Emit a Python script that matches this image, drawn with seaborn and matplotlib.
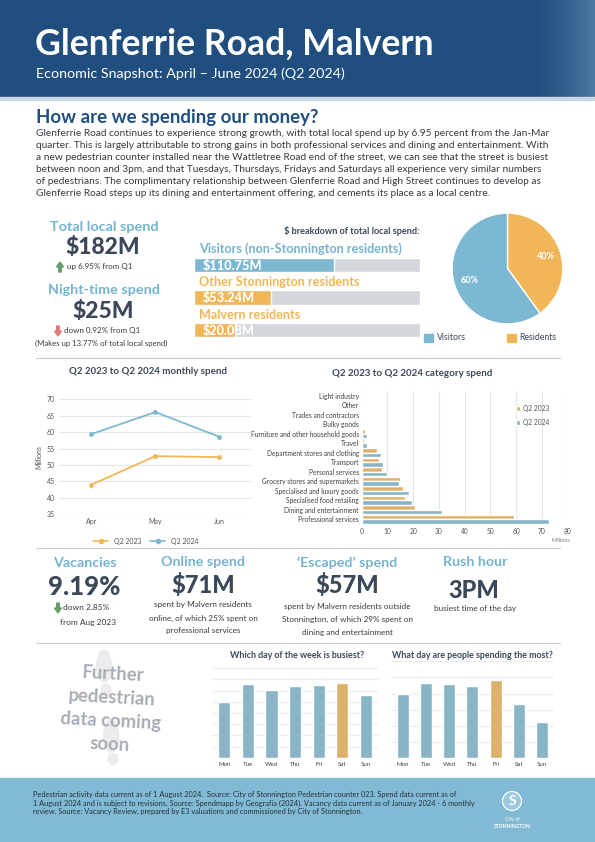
import numpy as np
import pandas as pd
import matplotlib
matplotlib.use("Agg")
import matplotlib.pyplot as plt
import seaborn as sns
from matplotlib.patches import Rectangle, Circle, Ellipse
from matplotlib.lines import Line2D
from matplotlib.colors import LinearSegmentedColormap

W, H = 595, 842

months = ["Apr", "May", "Jun"]
spend_2023 = [44.0, 52.7, 52.4]
spend_2024 = [59.4, 66.1, 58.6]

categories = ["Light industry", "Other", "Trades and contractors", "Bulky goods",
              "Furniture and other household goods", "Travel",
              "Department stores and clothing", "Transport", "Personal services",
              "Grocery stores and supermarkets", "Specialised and luxury goods",
              "Specialised food retailing", "Dining and entertainment",
              "Professional services"]
cat_2023 = [0.3, 0.4, 0.4, 0.5, 1.3, 0.9, 6.0, 6.7, 7.9, 14.9, 15.9, 16.8, 20.7, 59.2]
cat_2024 = [0.2, 0.3, 0.4, 0.5, 1.9, 1.9, 7.4, 8.3, 9.8, 14.5, 18.4, 19.5, 31.2, 72.8]

days = ["Mon", "Tue", "Wed", "Thu", "Fri", "Sat", "Sun"]
pedestrians = [5.0, 6.56, 6.06, 6.38, 6.5, 6.65, 5.62]
day_spend = [3.96, 4.64, 4.58, 4.48, 4.83, 3.37, 2.22]

breakdown_labels = ["Visitors (non-Stonnington residents)", "Other Stonnington residents",
                    "Malvern residents"]
breakdown_values = [110.75, 53.24, 20.08]

pie_labels = ["Visitors", "Residents"]
pie_shares = [60, 40]

# ---- colours ----
NAVY = "#1f4e7f"
BLUE = "#7db8d2"
ORANGE = "#f0b657"
SLATE = "#3b4859"
SKY = "#74b4d0"
TRACK = "#d3d6da"
GRID = "#e4e4e4"
RULE = "#c5c9cf"

sns.set_theme(style="white")
plt.rcParams["font.family"] = ["Lato", "DejaVu Sans"]

fig = plt.figure(figsize=(W / 100, H / 100), dpi=100)
fig.patch.set_facecolor("white")

# full-page canvas in pixel coordinates
ax0 = fig.add_axes([0, 0, 1, 1])
ramp = np.clip((np.arange(W) - 530) / 65.0, 0, 1) ** 1.4
header_cmap = LinearSegmentedColormap.from_list("hdr", [NAVY, "#4b7aa3"])
ax0.imshow(ramp[None, :], extent=(0, W, 97, 0), aspect="auto", cmap=header_cmap,
           vmin=0, vmax=1, zorder=0)
ax0.set_xlim(0, W)
ax0.set_ylim(H, 0)
ax0.axis("off")
ax0.add_patch(Rectangle((0, 97), W, 3, color="#c9d7e4", zorder=1))


def px_axes(x0, y0, x1, y1):
    return fig.add_axes([x0 / W, 1 - y1 / H, (x1 - x0) / W, (y1 - y0) / H])


def txt(x, y, s, size, color, weight="normal", ha="left", **kw):
    ax0.text(x, y, s, fontsize=size, color=color, fontweight=weight, ha=ha,
             va="center", **kw)


def up_arrow(x, y, col):
    ax0.arrow(x, y + 5, 0, -10, width=2.6, head_width=7, head_length=5, color=col,
              length_includes_head=True)


def down_arrow(x, y, col):
    ax0.arrow(x, y - 5, 0, 10, width=2.6, head_width=7, head_length=5, color=col,
              length_includes_head=True)


# ---- header ----
txt(35, 44, "Glenferrie Road, Malvern", 25.6, "white", "bold")
txt(36, 74, "Economic Snapshot: April \u2013 June 2024 (Q2 2024)", 10.3, "white")

# ---- intro ----
txt(36, 117, "How are we spending our money?", 13.4, NAVY, "bold")
para = [
    "Glenferrie Road continues to experience strong growth, with total local spend up by 6.95 percent from the Jan-Mar",
    "quarter. This is largely attributable to strong gains in both professional services and dining and entertainment. With",
    "a new pedestrian counter installed near the Wattletree Road end of the street, we can see that the street is busiest",
    "between noon and 3pm, and that Tuesdays, Thursdays, Fridays and Saturdays all experience very similar numbers",
    "of pedestrians. The complimentary relationship between Glenferrie Road and High Street continues to develop as",
    "Glenferrie Road steps up its dining and entertainment offering, and cements its place as a local centre.",
]
for i, line in enumerate(para):
    txt(36, 133 + i * 12.2, line, 7.3, "#353a40")

# ---- left KPIs ----
txt(104, 227, "Total local spend", 10.4, SKY, "bold", ha="center")
txt(103, 248, "$182M", 16.5, SLATE, "black", ha="center")
up_arrow(60, 267, "#6b9a6b")
txt(67, 267, "up 6.95% from Q1", 5.8, "#3a3a3a")
txt(104, 290, "Night-time spend", 10.4, SKY, "bold", ha="center")
txt(103, 312, "$25M", 16.5, SLATE, "black", ha="center")
down_arrow(58, 331, "#e07b7b")
txt(64, 331, "down 0.92% from Q1", 5.8, "#3a3a3a")
txt(101, 343, "(Makes up 13.77% of total local spend)", 5.6, "#3a3a3a", ha="center")

# ---- $ breakdown bars ----
txt(420, 231, "$ breakdown of total local spend:", 6.6, SLATE, "bold", ha="right")
label_cols = [SKY, ORANGE, ORANGE]
fill_cols = [BLUE, ORANGE, ORANGE]
for i, lab in enumerate(breakdown_labels):
    txt(199, 249 + i * 33, lab, 9.1, label_cols[i], "bold")

axb = px_axes(194, 248.5, 420, 346.5)
lo, hi = -18, 190
axb.barh(range(3), [hi - lo] * 3, left=lo, height=0.43, color=TRACK)
axb.barh(range(3), [v - lo for v in breakdown_values], left=lo, height=0.43, color=fill_cols)
for i, val in enumerate(breakdown_values):
    axb.text(lo + 8, i + 0.03, f"${val:.2f}M", color="white", fontsize=9.2,
             fontweight="black", va="center", ha="left")
axb.set_xlim(lo, hi)
axb.set_ylim(2.5, -0.5)
axb.axis("off")

# ---- pie ----
axp = px_axes(451, 212, 564, 325)
axp.pie(pie_shares[::-1], colors=[ORANGE, BLUE], startangle=90, counterclock=False,
        autopct="%d%%", pctdistance=0.72,
        textprops=dict(color="white", fontsize=6.5, fontweight="bold"))
axp.set_xlim(-1.02, 1.02)
axp.set_ylim(-1.02, 1.02)
axp.set_aspect("equal")
for sq_x, tx, lab, col in [(424, 437, "Visitors", BLUE), (507, 519, "Residents", ORANGE)]:
    ax0.add_patch(Rectangle((sq_x, 334), 9, 8, color=col))
    txt(tx, 338, lab, 6.3, "#3a4656")

ax0.plot([36, 560], [358, 358], color=RULE, lw=0.8)

# ---- monthly spend line chart ----
txt(148, 372, "Q2 2023 to Q2 2024 monthly spend", 7, SLATE, "bold", ha="center")
df_line = pd.DataFrame({
    "month": months * 2,
    "value": spend_2023 + spend_2024,
    "series": ["Q2 2023"] * 3 + ["Q2 2024"] * 3,
})
axl = px_axes(59.3, 399.3, 251.3, 514.3)
sns.lineplot(data=df_line, x="month", y="value", hue="series", palette=[ORANGE, BLUE],
             marker="o", markersize=3.5, markeredgewidth=0, linewidth=1.3, sort=False,
             ax=axl, legend=False)
axl.set_xlim(-0.5, 2.5)
axl.set_ylim(35, 70)
axl.set_yticks(range(35, 71, 5))
axl.grid(axis="y", color=GRID, lw=0.8)
axl.set_axisbelow(True)
for s in axl.spines.values():
    s.set_visible(False)
axl.tick_params(labelsize=5, colors="#555555", length=0, pad=3)
axl.set_xlabel("")
axl.set_ylabel("Millions", fontsize=5, color="#555555", labelpad=3)
handles = [Line2D([], [], color=ORANGE, marker="o", markersize=3, lw=1.2),
           Line2D([], [], color=BLUE, marker="o", markersize=3, lw=1.2)]
axl.legend(handles, ["Q2 2023", "Q2 2024"], loc="upper center", bbox_to_anchor=(0.45, -0.15),
           ncol=2, frameon=False, fontsize=5, handlelength=2.2, columnspacing=1.2,
           labelcolor="#555555")

# ---- category spend bars ----
txt(412, 373, "Q2 2023 to Q2 2024 category spend", 7, SLATE, "bold", ha="center")
df_cat = pd.DataFrame({
    "category": categories * 2,
    "value": cat_2023 + cat_2024,
    "year": ["Q2 2023"] * len(categories) + ["Q2 2024"] * len(categories),
})
axc = px_axes(361.7, 391, 567.7, 524)
sns.barplot(data=df_cat, y="category", x="value", hue="year", order=categories,
            orient="h", palette=[ORANGE, BLUE], width=0.9, ax=axc)
axc.set_xlim(0, 80)
axc.set_xticks(range(0, 81, 10))
axc.grid(axis="x", color=GRID, lw=0.8)
axc.set_axisbelow(True)
for s in axc.spines.values():
    s.set_visible(False)
axc.tick_params(axis="y", labelsize=4.8, colors="#404040", length=0, pad=2)
axc.tick_params(axis="x", labelsize=4.8, colors="#555555", length=0, pad=3)
axc.set_xlabel("")
axc.set_ylabel("")
axc.legend(loc="upper left", bbox_to_anchor=(0.72, 0.94), frameon=False, fontsize=4.8,
           handlelength=0.6, handleheight=0.7, handletextpad=0.4, labelspacing=1.0,
           labelcolor="#555555")
txt(561, 541, "Millions", 4, "#777777", ha="center")

ax0.plot([36, 560], [548, 548], color=RULE, lw=0.8)

# ---- second KPI row ----
txt(85, 563, "Vacancies", 10.3, SKY, "bold", ha="center")
txt(84, 587, "9.19%", 18.5, SLATE, "black", ha="center")
down_arrow(58, 608, "#6b9a6b")
txt(63, 608, "down 2.85%", 6, "#3a3a3a")
txt(88, 622, "from Aug 2023", 6, "#3a3a3a", ha="center")

txt(203, 562, "Online spend", 10.3, SKY, "bold", ha="center")
txt(203, 585, "$71M", 17, SLATE, "black", ha="center")
for i, line in enumerate(["spent by Malvern residents", "online, of which 25% spent on",
                          "professional services"]):
    txt(203, 605 + i * 13, line, 5.9, "#3a3a3a", ha="center")

txt(347, 563, "\u2018Escaped\u2019 spend", 10.3, SKY, "bold", ha="center")
txt(347, 585, "$57M", 17, SLATE, "black", ha="center")
for i, line in enumerate(["spent by Malvern residents outside",
                          "Stonnington, of which 29% spent on", "dining and entertainment"]):
    txt(347, 607 + i * 12.5, line, 5.9, "#3a3a3a", ha="center")

txt(475, 562, "Rush hour", 10.3, SKY, "bold", ha="center")
txt(474, 590, "3PM", 17, SLATE, "black", ha="center")
txt(475, 609, "busiest time of the day", 5.9, "#3a3a3a", ha="center")

ax0.plot([36, 560], [643, 643], color=RULE, lw=0.8)

# ---- pedestrian placeholder ----
for cx, cy, w, h in [(104, 666, 15, 32), (106, 690, 10, 12), (111, 736, 15, 32), (113, 759, 10, 11)]:
    ax0.add_patch(Ellipse((cx, cy), w, h, color="#ececef", zorder=1))
for i, line in enumerate(["Further", "pedestrian", "data coming", "soon"]):
    ax0.text([113, 112, 111, 110][i], 674 + i * 23.5, line, fontsize=13.3, color="#a7adb5",
             fontweight="bold", ha="center", va="center", rotation=-3, zorder=2)


# ---- day of week bars ----
def day_chart(box, values, top, highlight, title, title_x):
    ax = px_axes(*box)
    cols = [ORANGE if d == highlight else BLUE for d in days]
    sns.barplot(x=days, y=values, hue=days, palette=cols, legend=False, width=0.52, ax=ax)
    ax.set_ylim(0, top)
    ax.set_yticks(range(0, top + 1))
    ax.set_yticklabels([])
    ax.grid(axis="y", color="#ececec", lw=0.8)
    ax.set_axisbelow(True)
    for s in ax.spines.values():
        s.set_visible(False)
    ax.tick_params(axis="x", labelsize=4.4, colors="#404040", length=0, pad=3)
    ax.tick_params(axis="y", length=0)
    txt(title_x, 655, title, 6.4, SLATE, "bold", ha="center")
    return ax


day_chart((212.5, 668.3, 377.7, 757.7), pedestrians, 8, "Sat",
          "Which day of the week is busiest?", 297)
day_chart((391, 661.3, 553.8, 758), day_spend, 6, "Fri",
          "What day are people spending the most?", 472)

# ---- footer ----
ax0.add_patch(Rectangle((0, 778), W, H - 778, color="#80bad4", zorder=1))
notes = [
    "Pedestrian activity data current as of 1 August 2024.  Source: City of Stonnington Pedestrian counter 023. Spend data current as of",
    "1 August 2024 and is subject to revisions. Source: Spendmapp by Geografia (2024). Vacancy data current as of January 2024 - 6 monthly",
    "review. Source: Vacancy Review, prepared by E3 valuations and commissioned by City of Stonnington.",
]
for i, line in enumerate(notes):
    ax0.text(33, 795 + i * 8.3, line, fontsize=5.3, color="#27323d", va="center", zorder=2)
ax0.add_patch(Circle((512, 801), 9.5, fc="#9bcae0", ec="white", lw=0.9, zorder=2))
ax0.text(512, 801, "S", fontsize=10, color="white", fontweight="bold", ha="center",
         va="center", zorder=3)
ax0.text(512, 819, "City of", fontsize=3.6, color="white", ha="center", va="center", zorder=3)
ax0.text(512, 826, "STONNINGTON", fontsize=3.6, color="white", fontweight="bold",
         ha="center", va="center", zorder=3)

fig.savefig("out.png", dpi=100, facecolor="white")
